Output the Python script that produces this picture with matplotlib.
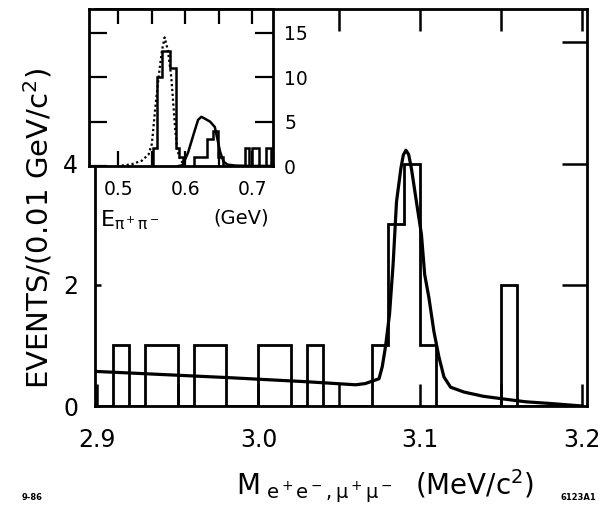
import matplotlib.pyplot as plt
import numpy as np

# main histogram: events per 0.01 GeV bin, 2.90 .. 3.20
bin_edges = np.round(np.arange(2.90, 3.2001, 0.01), 2)
counts = [0, 1, 0, 1, 1, 0, 1, 1, 0, 0,
          1, 1, 0, 1, 0, 0, 0, 1, 3, 4,
          1, 0, 0, 0, 0, 2, 0, 0, 0, 0]

# fitted curve
fit_x = [2.900, 2.940, 2.980, 3.030, 3.060, 3.066, 3.0745, 3.0765, 3.0785,
         3.081, 3.0832, 3.0853, 3.088, 3.0895, 3.0911, 3.0928, 3.0945,
         3.0976, 3.1007, 3.1027, 3.1053, 3.1084, 3.1115, 3.1146, 3.1187,
         3.127, 3.139, 3.156, 3.165, 3.181, 3.200]
fit_y = [0.57, 0.52, 0.47, 0.40, 0.35, 0.37, 0.45, 0.65, 0.98,
         1.52, 2.34, 3.37, 3.92, 4.14, 4.22, 4.15, 3.92,
         3.37, 2.83, 2.17, 1.79, 1.23, 0.81, 0.48, 0.31,
         0.23, 0.16, 0.10, 0.07, 0.04, 0.0]

# inset: E(pi+pi-) distribution
ins_edges1 = [0.552, 0.557, 0.565, 0.577, 0.586, 0.591, 0.597]
ins_counts1 = [2, 10, 13, 11, 2, 1]
ins_edges2 = [0.613, 0.632, 0.641, 0.649, 0.656]
ins_counts2 = [1, 3, 4, 1]
ins_edges3 = [0.689, 0.695, 0.699, 0.710, 0.720, 0.728]
ins_counts3 = [2, 0, 2, 0, 2]

dot_x = [0.505, 0.520, 0.535, 0.545, 0.550, 0.555, 0.560, 0.565, 0.569,
         0.574, 0.579, 0.582, 0.585, 0.588, 0.593, 0.600]
dot_y = [0.05, 0.2, 0.6, 1.3, 2.5, 6.5, 10.0, 13.0, 14.5,
         13.0, 10.0, 7.0, 4.0, 1.8, 0.6, 0.1]

sol_x = [0.590, 0.596, 0.604, 0.612, 0.619, 0.624, 0.630, 0.637, 0.644,
         0.648, 0.652, 0.657, 0.663, 0.675, 0.700, 0.731]
sol_y = [0.0, 0.1, 1.5, 3.5, 5.2, 5.55, 5.3, 5.0, 4.4,
         3.0, 1.6, 0.5, 0.15, 0.05, 0.0, 0.0]

W, H = 607, 513
fig = plt.figure(figsize=(W / 100, H / 100), dpi=100)

# ---- main panel ----
ax = fig.add_axes([95 / W, 1 - 406 / H, 492 / W, 397 / H])
ax.stairs(counts, bin_edges, color='black', lw=2.0)
ax.plot(fit_x, fit_y, color='black', lw=2.3)
ax.set_xlim(2.899, 3.203)
ax.set_ylim(0, 6.55)
ax.set_xticks([2.9, 3.0, 3.1, 3.2])
ax.set_xticklabels(['2.9', '3.0', '3.1', '3.2'])
ax.set_xticks(np.arange(2.95, 3.2, 0.1), minor=True)
ax.set_yticks([0, 2, 4])
ax.tick_params(axis='x', which='both', direction='in', length=16, width=1.8,
               top=True, bottom=True, labelsize=17, pad=16)
ax.tick_params(axis='y', direction='in', length=4, width=1.8,
               labelsize=17, pad=12)
for s in ax.spines.values():
    s.set_linewidth(2.0)

axr = ax.twinx()
axr.set_ylim(0, 6.55)
axr.set_yticks([2, 4, 6])
axr.tick_params(axis='y', direction='in', length=18, width=1.8,
                labelright=False)
for s in axr.spines.values():
    s.set_visible(False)

fig.text(38 / W, 1 - 228 / H, 'EVENTS/(0.01 GeV/c$^2$)', rotation=90,
         ha='center', va='center', fontsize=21)
fig.text(236 / W, 1 - 488 / H,
         r'M$_{\ \mathrm{e^+e^-,\mu^+\mu^-}}$', ha='left', va='center',
         fontsize=20)
fig.text(415 / W, 1 - 484 / H, '(MeV/c$^2$)', ha='left', va='center',
         fontsize=20)
fig.text(32 / W, 1 - 497 / H, '9-86', ha='center', va='center',
         fontsize=6, weight='bold')
fig.text(578 / W, 1 - 497 / H, '6123A1', ha='center', va='center',
         fontsize=6, weight='bold')

# ---- inset ----
ins = fig.add_axes([89 / W, 1 - 166 / H, 184 / W, 157 / H])
ins.set_facecolor('white')
ins.stairs(ins_counts1, ins_edges1, color='black', lw=1.8)
ins.stairs(ins_counts2, ins_edges2, color='black', lw=1.8)
ins.stairs(ins_counts3, ins_edges3, color='black', lw=1.8)
ins.plot(dot_x, dot_y, color='black', lw=1.6, ls=(0, (1, 1.2)))
ins.plot(sol_x, sol_y, color='black', lw=1.8)
ins.set_xlim(0.456, 0.731)
ins.set_ylim(0, 17.7)
ins.set_xticks([0.5, 0.6, 0.7])
ins.set_xticklabels(['0.5', '0.6', '0.7'])
ins.set_xticks([0.55, 0.65], minor=True)
ins.set_yticks([0, 5, 10, 15])
ins.yaxis.tick_right()
ins.tick_params(axis='x', which='both', direction='in', length=11, width=1.6,
                top=True, bottom=True, labelsize=13.5, pad=10)
ins.tick_params(axis='y', direction='in', length=13, width=1.6,
                left=True, right=True, labelleft=False, labelright=True,
                labelsize=13.5, pad=8)
for s in ins.spines.values():
    s.set_linewidth(2.0)

fig.text(100 / W, 1 - 220 / H, r'E$_{\mathrm{\pi^+\pi^-}}$', ha='left',
         va='center', fontsize=16)
fig.text(213 / W, 1 - 218 / H, '(GeV)', ha='left', va='center', fontsize=14)

fig.savefig('out.png', dpi=100)
